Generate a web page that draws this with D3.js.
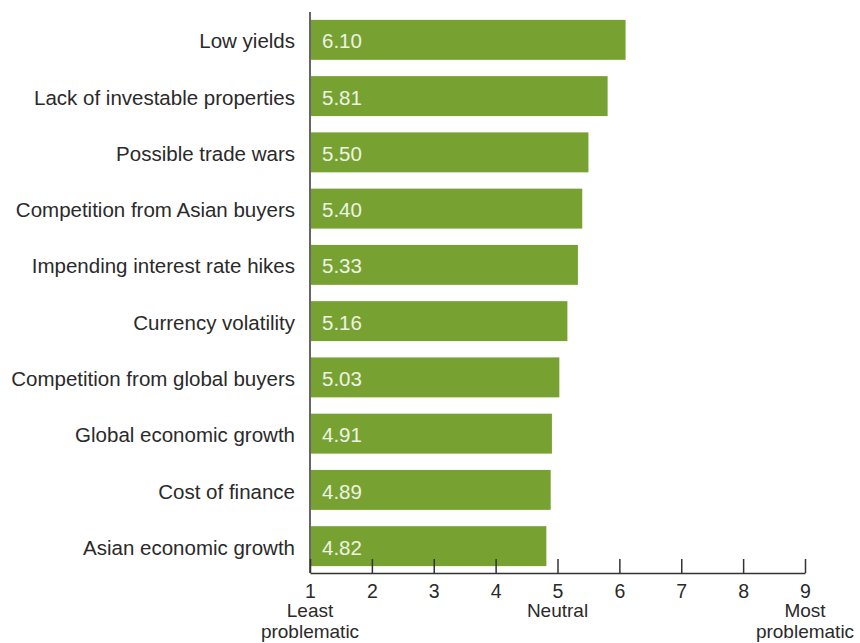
<!DOCTYPE html>
<html>
<head>
<meta charset="utf-8">
<script src="https://cdn.jsdelivr.net/npm/d3@7"></script>
<style>
  body { margin: 0; background: #fff; }
  text { font-family: "Liberation Sans", Arial, sans-serif; }
</style>
</head>
<body>
<script>
var categories = ["Low yields", "Lack of investable properties", "Possible trade wars",
                  "Competition from Asian buyers", "Impending interest rate hikes",
                  "Currency volatility", "Competition from global buyers",
                  "Global economic growth", "Cost of finance", "Asian economic growth"];
var values = [6.10, 5.81, 5.50, 5.40, 5.33, 5.16, 5.03, 4.91, 4.89, 4.82];
var tickValues = [1, 2, 3, 4, 5, 6, 7, 8, 9];
var scaleNotes = [{ v: 1, lines: ["Least", "problematic"] },
                  { v: 5, lines: ["Neutral"] },
                  { v: 9, lines: ["Most", "problematic"] }];

var w = 860;
var h = 643;
var green = "#77a232";

var svg = d3.select("body").append("svg")
            .attr("width", w)
            .attr("height", h);

var x = d3.scaleLinear().domain([1, 9]).range([310, 805]);
var y = d3.scaleBand().domain(categories).range([12, 574])
          .paddingInner(0.29).paddingOuter(0.14);

// bars
svg.selectAll("rect.bar").data(values)
   .enter().append("rect")
   .attr("class", "bar")
   .attr("x", x(1) + 1)
   .attr("y", function(d, i) { return y(categories[i]); })
   .attr("width", function(d) { return x(d) - x(1) - 1; })
   .attr("height", y.bandwidth())
   .attr("fill", green);

// value labels inside bars
svg.selectAll("text.val").data(values)
   .enter().append("text")
   .attr("class", "val")
   .text(function(d) { return d.toFixed(2); })
   .attr("x", x(1) + 12)
   .attr("y", function(d, i) { return y(categories[i]) + y.bandwidth() / 2; })
   .attr("dy", "0.42em")
   .attr("font-size", "20.5px")
   .attr("fill", "#eef3e4");

// category labels
svg.selectAll("text.cat").data(categories)
   .enter().append("text")
   .attr("class", "cat")
   .text(function(d) { return d; })
   .attr("text-anchor", "end")
   .attr("x", 295)
   .attr("y", function(d) { return y(d) + y.bandwidth() / 2; })
   .attr("dy", "0.42em")
   .attr("font-size", "20.5px")
   .attr("fill", "#2a2a2a");

// vertical axis line
svg.append("line")
   .attr("x1", x(1)).attr("x2", x(1))
   .attr("y1", 12).attr("y2", 573)
   .attr("stroke", "#333").attr("stroke-width", 1.5);

// bottom axis, ticks pointing up
var xAxis = d3.axisBottom(x).tickValues(tickValues).tickSizeInner(-14).tickSizeOuter(0)
              .tickPadding(11).tickFormat(d3.format("d"));
var gx = svg.append("g")
            .attr("transform", "translate(0,573)")
            .call(xAxis);
gx.select(".domain").attr("stroke", "#333").attr("stroke-width", 1.5);
gx.selectAll(".tick line").attr("stroke", "#333").attr("stroke-width", 1.5);
gx.selectAll(".tick text")
  .attr("font-size", "19.5px")
  .attr("font-family", "Liberation Sans, Arial, sans-serif")
  .attr("fill", "#2a2a2a");

// end notes under the scale
scaleNotes.forEach(function(n) {
  n.lines.forEach(function(line, j) {
    svg.append("text")
       .text(line)
       .attr("text-anchor", "middle")
       .attr("x", x(n.v))
       .attr("y", 617 + j * 20.5)
       .attr("font-size", "19px")
       .attr("fill", "#2a2a2a");
  });
});
</script>
</body>
</html>
